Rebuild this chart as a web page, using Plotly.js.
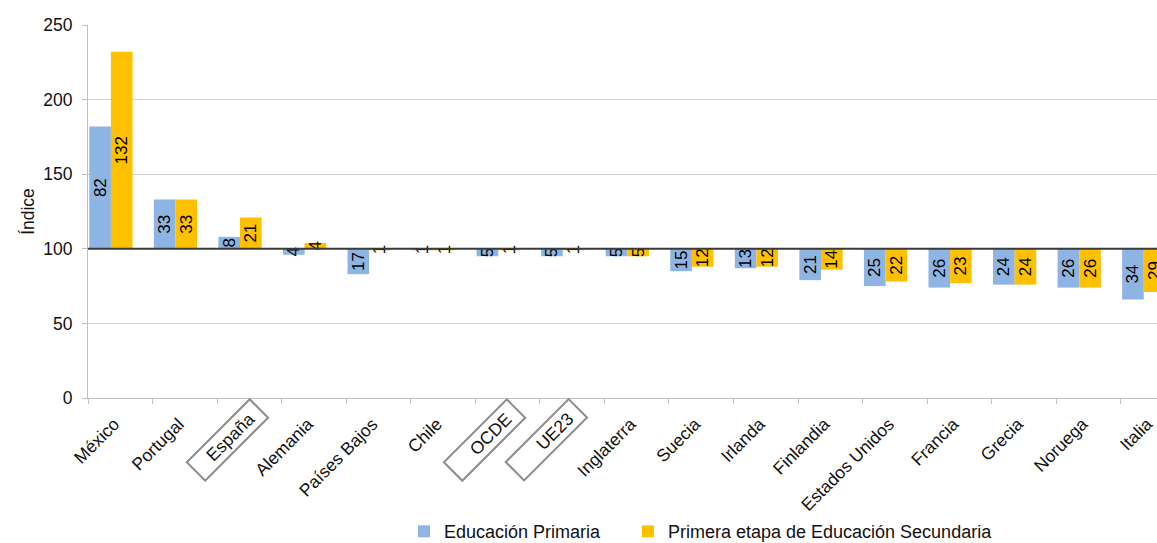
<!DOCTYPE html>
<html>
<head>
<meta charset="utf-8">
<script src="https://cdn.plot.ly/plotly-3.0.1.min.js"></script>
<style>html,body{margin:0;padding:0;background:#fff;}#chart{width:1157px;height:543px;}</style>
</head>
<body>
<div id="chart"></div>
<script>
const categories = ["México","Portugal","España","Alemania","Países Bajos","Chile","OCDE","UE23","Inglaterra","Suecia","Irlanda","Finlandia","Estados Unidos","Francia","Grecia","Noruega","Italia"];
const primaria   = [182,133,108,96,83,99,95,95,95,85,87,79,75,74,76,74,66];
const secundaria = [232,133,121,104,99,99,99,99,95,88,88,86,78,77,76,74,71];
const boxedLabels = ["España","OCDE","UE23"];
const boxShift = {"España": -22, "OCDE": -23, "UE23": -26};
const baseIndex = 100;

const FONT = "Liberation Sans, Arial, sans-serif";

function barTrace(name, vals, color, offset, legendId) {
  return {
    type: "bar",
    name: name,
    legend: legendId,
    x: categories,
    y: vals.map(v => v - baseIndex),
    base: baseIndex,
    offset: offset,
    width: 0.335,
    marker: {color: color, line: {width: 0}},
    text: vals.map(v => String(Math.abs(v - baseIndex))),
    textposition: "inside",
    insidetextanchor: "middle",
    textangle: -90,
    constraintext: "none",
    textfont: {family: FONT, size: 17, color: "#000"},
    cliponaxis: true,
    hoverinfo: "skip"
  };
}

const data = [
  barTrace("Educación Primaria", primaria, "#8DB4E2", -0.48, "legend"),
  barTrace("Primera etapa de Educación Secundaria", secundaria, "#FFC000", -0.145, "legend2")
];

const annotations = boxedLabels.map(c => ({
  x: c, xref: "x", y: 0, yref: "y",
  text: c + "\u00a0\u00a0", showarrow: false,
  textangle: -45,
  align: "right",
  xanchor: "center", yanchor: "middle",
  xshift: boxShift[c], yshift: -42,
  width: 87, height: 24,
  bordercolor: "#8c8c8c", borderwidth: 2, borderpad: 0,
  font: {family: FONT, size: 17.5, color: "#111"}
}));

const legendCommon = {
  orientation: "h",
  xanchor: "left",
  yref: "container",
  y: 0.021, yanchor: "middle",
  font: {family: FONT, size: 18, color: "#111"},
  bgcolor: "rgba(0,0,0,0)"
};

const layout = {
  width: 1157, height: 543,
  margin: {l: 88, r: 0, t: 25, b: 145},
  paper_bgcolor: "#fff", plot_bgcolor: "#fff",
  barmode: "overlay",
  showlegend: true,
  font: {family: FONT, size: 17.5, color: "#111"},
  xaxis: {
    type: "category",
    range: [-0.5, 16.06],
    tickvals: categories,
    ticktext: categories.map(c => boxedLabels.includes(c) ? "" : c),
    tickangle: -45,
    tickfont: {family: FONT, size: 17.5, color: "#111"},
    ticks: "outside", tickson: "boundaries", ticklen: 5, tickcolor: "#bfbfbf",
    ticklabelstandoff: 8,
    ticklabelshift: -6,
    showline: true, linecolor: "#bfbfbf", linewidth: 1,
    showgrid: false, zeroline: false,
    fixedrange: true
  },
  yaxis: {
    range: [0, 250],
    tickvals: [0, 50, 100, 150, 200, 250],
    tickfont: {family: FONT, size: 17.5, color: "#111"},
    ticks: "outside", ticklen: 5, tickcolor: "#bfbfbf",
    ticklabelstandoff: 6,
    showline: true, linecolor: "#bfbfbf", linewidth: 1,
    showgrid: true, gridcolor: "#d0d0d0", gridwidth: 1,
    zeroline: false,
    title: {text: "Índice", font: {family: FONT, size: 17.5, color: "#111"}, standoff: 4},
    fixedrange: true
  },
  legend: Object.assign({}, legendCommon, {x: 0.2956}),
  legend2: Object.assign({}, legendCommon, {x: 0.5051}),
  shapes: [{
    type: "line", xref: "paper", x0: 0, x1: 1, yref: "y", y0: baseIndex, y1: baseIndex,
    line: {color: "#3a3a3a", width: 2}, layer: "above"
  }],
  annotations: annotations
};

Plotly.newPlot("chart", data, layout, {displayModeBar: false, staticPlot: true});
</script>
</body>
</html>
